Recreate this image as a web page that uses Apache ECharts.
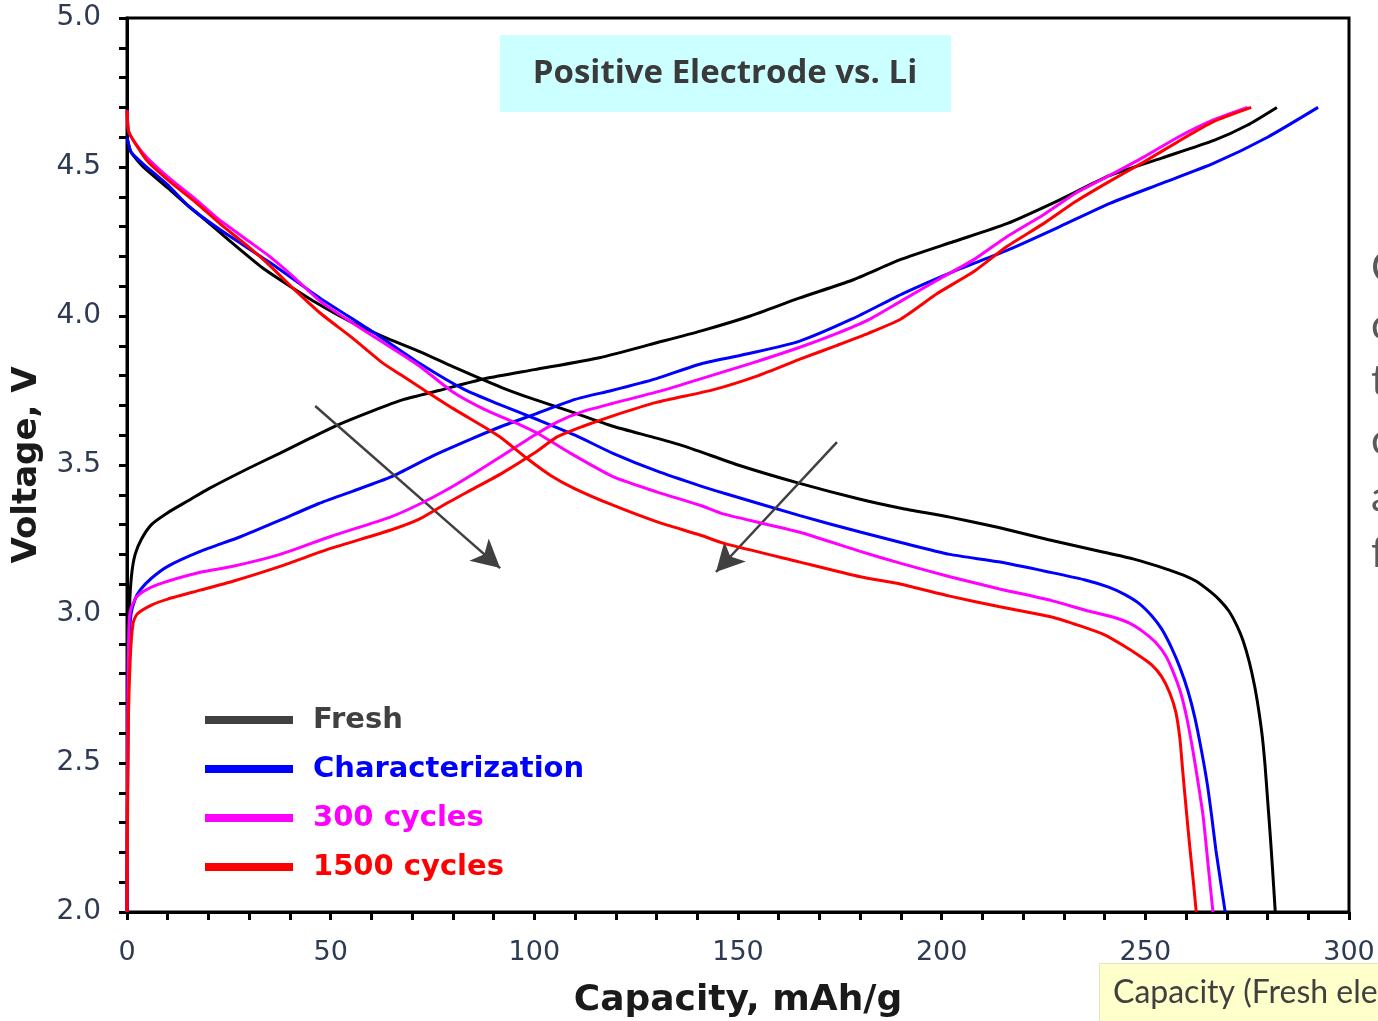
<!DOCTYPE html>
<html>
<head>
<meta charset="utf-8">
<title>Positive Electrode vs. Li</title>
<script src="https://cdn.jsdelivr.net/npm/echarts@6/dist/echarts.min.js"></script>
<style>
  html, body { margin: 0; padding: 0; background: #ffffff; }
  #chart { width: 1378px; height: 1021px; }
</style>
</head>
<body>
<div id="chart"></div>
<script>
// Voltage (V) vs. specific capacity (mAh/g) of the positive electrode, half cell vs. Li
const seriesNames = ['Fresh', 'Characterization', '300 cycles', '1500 cycles'];
const seriesColors = ['#000000', '#0000ff', '#ff00ff', '#ff0000'];
const legendLineColors = ['#404040', '#0000ff', '#ff00ff', '#ff0000'];
const legendTextColors = ['#404040', '#0000ff', '#ff00ff', '#ff0000'];

// Charge curves [capacity, voltage]
const freshCharge = [[0,2.0],[0.2,2.6],[0.4,2.9],[0.7,3.05],[1.2,3.14],[2,3.2],[3.5,3.25],[6,3.3],[10,3.34],[15,3.38],[20,3.42],[30,3.49],[37.6,3.54],[45,3.59],[51,3.63],[60,3.68],[68,3.72],[76.6,3.75],[88,3.79],[100,3.82],[116,3.86],[130,3.91],[141,3.95],[153,4.0],[165,4.06],[178,4.12],[190,4.19],[203,4.25],[216,4.31],[229,4.39],[241,4.47],[254,4.53],[267,4.59],[275,4.64],[282.3,4.70]];
const charCharge = [[0,2.0],[0.2,2.6],[0.5,2.9],[1,3.0],[2,3.05],[3.2,3.08],[6,3.12],[10,3.16],[18,3.21],[28,3.26],[37.6,3.315],[47,3.37],[55,3.41],[64.8,3.46],[75,3.53],[85,3.59],[92,3.63],[100,3.67],[110,3.72],[119,3.75],[130,3.79],[141,3.84],[153,3.875],[165,3.915],[178,3.99],[190.6,4.076],[203,4.15],[216,4.22],[229,4.30],[241.3,4.378],[254,4.445],[266.7,4.512],[280,4.60],[292.4,4.70]];
const c300Charge = [[0,2.0],[0.2,2.7],[0.5,2.97],[1,3.02],[2.5,3.06],[6,3.09],[10,3.11],[18,3.14],[26,3.16],[37.6,3.2],[50,3.26],[64.8,3.326],[72,3.37],[78.4,3.416],[85,3.47],[92,3.53],[100,3.6],[105.7,3.645],[112,3.68],[119.3,3.707],[132,3.752],[141,3.79],[153,3.84],[165.2,3.895],[174,3.94],[182,3.987],[190,4.05],[199,4.121],[208,4.19],[216,4.266],[225,4.34],[232.9,4.412],[241,4.47],[249.8,4.535],[258,4.6],[266.7,4.658],[275.1,4.70]];
const c1500Charge = [[0,2.0],[0.3,2.6],[0.8,2.85],[1.5,2.97],[2.5,3.0],[6,3.03],[10,3.05],[18,3.08],[26,3.11],[37.6,3.16],[50,3.22],[64.8,3.282],[72,3.32],[78.4,3.371],[85,3.42],[92,3.472],[100,3.54],[105.7,3.595],[112,3.63],[119.3,3.665],[130,3.71],[143.8,3.752],[155,3.8],[165.2,3.855],[174,3.9],[182,3.942],[190,3.99],[199,4.076],[208,4.15],[216,4.233],[225,4.31],[232.9,4.384],[241,4.45],[249.8,4.518],[258,4.585],[266.7,4.652],[276,4.70]];

// Discharge curves [capacity, voltage]
const freshDischarge = [[0,4.6],[1,4.55],[4,4.5],[10,4.43],[15,4.37],[22,4.29],[28,4.22],[33.4,4.16],[40,4.1],[47,4.04],[55,3.98],[63,3.93],[72,3.88],[80,3.83],[92,3.76],[100,3.72],[108.8,3.68],[119.3,3.63],[130,3.59],[137.5,3.56],[150,3.5],[164.7,3.44],[180,3.385],[190,3.355],[202,3.325],[214,3.29],[226,3.25],[239,3.21],[247,3.185],[252,3.165],[256,3.147],[259.5,3.13],[262.5,3.11],[265.5,3.08],[268,3.05],[270.5,3.01],[272.5,2.96],[274,2.91],[275.5,2.84],[276.8,2.76],[277.8,2.68],[278.7,2.59],[279.4,2.49],[280,2.38],[280.6,2.27],[281.2,2.15],[281.9,2.0]];
const charDischarge = [[0,4.6],[1,4.55],[4,4.51],[10,4.44],[15,4.37],[22.8,4.29],[35,4.18],[47.4,4.06],[60,3.95],[72,3.84],[83,3.752],[92,3.7],[101,3.651],[110,3.6],[119.3,3.539],[130,3.48],[140.7,3.43],[146.6,3.405],[165.2,3.33],[180,3.275],[190,3.24],[202,3.2],[214,3.175],[226.6,3.14],[235,3.115],[241,3.09],[245,3.065],[248.5,3.035],[251.5,2.995],[254,2.95],[256.5,2.885],[258.5,2.82],[260.5,2.74],[262.2,2.65],[263.8,2.54],[265.2,2.43],[266.3,2.32],[267.3,2.21],[268.5,2.1],[269.6,2.0]];
const c300Discharge = [[0,4.69],[0.4,4.62],[2,4.58],[5,4.53],[10.6,4.46],[17,4.39],[22,4.33],[30,4.25],[35,4.2],[41,4.13],[47.4,4.05],[55,3.98],[63,3.91],[72,3.83],[80,3.745],[88,3.685],[96.5,3.635],[101,3.605],[108.8,3.54],[119.3,3.461],[130,3.41],[140.7,3.365],[146.6,3.335],[165,3.275],[180,3.21],[190,3.17],[202,3.125],[214,3.085],[227,3.045],[236,3.01],[242,2.99],[246,2.97],[249.5,2.94],[252.5,2.905],[255,2.86],[257,2.8],[258.7,2.735],[260.2,2.65],[261.7,2.54],[263,2.43],[264.2,2.32],[265.4,2.16],[266.6,2.0]];
const c1500Discharge = [[0,4.69],[0.4,4.62],[2,4.58],[5,4.52],[10.6,4.45],[17,4.38],[22.8,4.31],[30,4.23],[35,4.17],[41,4.09],[47.4,4.01],[55,3.93],[63,3.84],[67.5,3.8],[72,3.76],[80,3.69],[88,3.625],[92,3.59],[98.4,3.52],[104,3.465],[110,3.42],[119.3,3.365],[130,3.31],[140.7,3.265],[146.6,3.237],[165,3.175],[180,3.125],[190,3.1],[202,3.06],[214,3.025],[227,2.99],[234,2.96],[240,2.93],[244.5,2.895],[248.5,2.86],[251.5,2.83],[254,2.79],[256,2.735],[257.5,2.67],[258.5,2.58],[259.2,2.47],[260,2.35],[260.9,2.22],[261.8,2.1],[262.5,2.0]];

// Trend arrows [capacity, voltage] start -> end
const chargeArrow = [[46.2, 3.698], [91.6, 3.154]];
const dischargeArrow = [[174.3, 3.577], [144.6, 3.141]];

const curveSets = [
  [freshCharge, freshDischarge],
  [charCharge, charDischarge],
  [c300Charge, c300Discharge],
  [c1500Charge, c1500Discharge]
];

const series = [];
curveSets.forEach((pair, i) => {
  pair.forEach((curve) => {
    series.push({
      name: seriesNames[i],
      type: 'line',
      data: curve,
      showSymbol: false,
      symbol: 'none',
      smooth: 0.2,
      lineStyle: { color: seriesColors[i], width: 3 },
      itemStyle: { color: seriesColors[i] },
      z: 3 + i
    });
  });
});

// Arrow annotations drawn in data coordinates
series.push({
  name: 'arrows',
  type: 'line',
  data: [],
  z: 10,
  markLine: {
    silent: true,
    animation: false,
    symbol: ['none', 'arrow'],
    symbolSize: [22, 28],
    label: { show: false },
    lineStyle: { color: '#404040', width: 2.5, type: 'solid' },
    data: [
      [{ coord: chargeArrow[0] }, { coord: chargeArrow[1] }],
      [{ coord: dischargeArrow[0] }, { coord: dischargeArrow[1] }]
    ]
  }
});

const tickFont = 'DejaVu Sans, Verdana, sans-serif';
const tickColor = '#2d3a52';

const chart = echarts.init(document.getElementById('chart'), null, { renderer: 'canvas' });
chart.setOption({
  animation: false,
  backgroundColor: '#ffffff',
  grid: {
    left: 127, right: 29, top: 18, bottom: 109,
    containLabel: false, outerBoundsMode: 'none',
    show: true, borderColor: '#000000', borderWidth: 3, backgroundColor: 'transparent'
  },
  xAxis: {
    type: 'value', min: 0, max: 300, interval: 50,
    name: 'Capacity, mAh/g', nameLocation: 'middle', nameGap: 71,
    nameTextStyle: { fontFamily: tickFont, fontSize: 36, fontWeight: 'bold', color: '#1a1a1a' },
    axisLine: { show: true, onZero: false, lineStyle: { color: '#000', width: 3 } },
    axisTick: { show: true, inside: false, length: 8, lineStyle: { color: '#000', width: 3 } },
    minorTick: { show: true, splitNumber: 5, length: 8, lineStyle: { color: '#000', width: 3 } },
    splitLine: { show: false },
    axisLabel: { fontFamily: tickFont, fontSize: 27, color: tickColor, margin: 27 }
  },
  yAxis: {
    type: 'value', min: 2, max: 5, interval: 0.5,
    name: 'Voltage, V', nameLocation: 'middle', nameGap: 83, nameRotate: 90,
    nameTextStyle: { fontFamily: tickFont, fontSize: 34, fontWeight: 'bold', color: '#1a1a1a' },
    axisLine: { show: true, onZero: false, lineStyle: { color: '#000', width: 3 } },
    axisTick: { show: true, inside: false, length: 8, lineStyle: { color: '#000', width: 3 } },
    minorTick: { show: true, splitNumber: 5, length: 8, lineStyle: { color: '#000', width: 3 } },
    splitLine: { show: false },
    axisLabel: { fontFamily: tickFont, fontSize: 28, color: tickColor, margin: 26,
      formatter: (v) => v.toFixed(1) }
  },
  legend: {
    orient: 'vertical', left: 205, top: 705, padding: 0,
    itemWidth: 88, itemHeight: 8, itemGap: 19, icon: 'rect',
    selectedMode: false,
    textStyle: { fontFamily: tickFont, fontSize: 29, fontWeight: 'bold', lineHeight: 30, padding: [0, 0, 0, 15] },
    data: seriesNames.map((n, i) => ({
      name: n,
      itemStyle: { color: legendLineColors[i] },
      textStyle: { color: legendTextColors[i], fontFamily: tickFont, fontSize: 29, fontWeight: 'bold' }
    }))
  },
  graphic: [
    {
      type: 'rect', left: 500, top: 35, z: 20,
      shape: { width: 451, height: 77 },
      style: { fill: '#ccffff' }
    },
    {
      type: 'text', x: 725, y: 74, z: 21,
      style: { text: 'Positive Electrode vs. Li', fill: '#3a3a3a',
        font: 'bold 33px "Open Sans", Lato, sans-serif', textAlign: 'center', textVerticalAlign: 'middle' }
    },
    // neighbouring text column, cut by the page edge
    { type: 'text', x: 1371, y: 268, style: { text: 'C', fill: '#595959', font: '42px Lato, sans-serif', textVerticalAlign: 'middle' } },
    { type: 'text', x: 1371, y: 325, style: { text: 'c', fill: '#595959', font: '42px Lato, sans-serif', textVerticalAlign: 'middle' } },
    { type: 'text', x: 1371, y: 381, style: { text: 't', fill: '#595959', font: '42px Lato, sans-serif', textVerticalAlign: 'middle' } },
    { type: 'text', x: 1371, y: 440, style: { text: 'c', fill: '#595959', font: '42px Lato, sans-serif', textVerticalAlign: 'middle' } },
    { type: 'text', x: 1371, y: 497, style: { text: 'a', fill: '#595959', font: '42px Lato, sans-serif', textVerticalAlign: 'middle' } },
    { type: 'text', x: 1371, y: 553, style: { text: 'f', fill: '#595959', font: '42px Lato, sans-serif', textVerticalAlign: 'middle' } },
    // caption box in the lower right corner
    {
      type: 'rect', left: 1099, top: 963, z: 20,
      shape: { width: 290, height: 70 },
      style: { fill: '#ffffcc', stroke: '#e6e6b8', lineWidth: 1 }
    },
    {
      type: 'text', x: 1113, y: 993, z: 21,
      style: { text: 'Capacity (Fresh ele', fill: '#404040', font: '32px Lato, "Open Sans", sans-serif', textVerticalAlign: 'middle' }
    }
  ],
  series: series
});
</script>
</body>
</html>
